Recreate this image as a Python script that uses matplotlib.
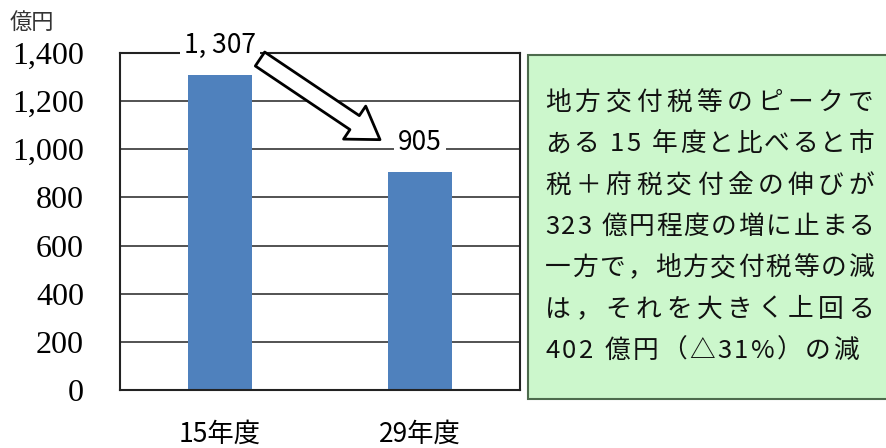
import matplotlib
matplotlib.use("Agg")
import matplotlib.pyplot as plt
from matplotlib.patches import Rectangle

# data
categories = ["15年度", "29年度"]
values = [1307, 905]
value_labels = ["1, 307", "905"]
y_ticks = [0, 200, 400, 600, 800, 1000, 1200, 1400]
y_unit = "億円"
note_lines = [
    "地方交付税等のピークで",
    "ある 15 年度と比べると市",
    "税＋府税交付金の伸びが",
    "323 億円程度の増に止まる",
    "一方で，地方交付税等の減",
    "は，それを大きく上回る",
    "402 億円（△31%）の減",
]

JP = ["Noto Sans CJK JP", "DejaVu Sans"]
W, H = 886, 448

fig = plt.figure(figsize=(W / 100, H / 100), dpi=100)
ax = fig.add_axes([120 / W, 58 / H, 400 / W, 337 / H])

x = list(range(len(categories)))
ax.bar(x, values, width=0.32, color="#4f81bd", zorder=2)
ax.set_xlim(-0.5, 1.5)
ax.set_ylim(0, 1400)
ax.set_yticks(y_ticks)
ax.set_yticklabels([f"{v:,}" for v in y_ticks], family="Liberation Serif", fontsize=23)
ax.set_xticks(x)
ax.set_xticklabels(categories, family=JP, fontsize=19)
ax.tick_params(axis="y", length=0, pad=26)
ax.tick_params(axis="x", length=0, pad=22)
ax.grid(axis="y", color="#444444", linewidth=1.3, zorder=0)
for s in ax.spines.values():
    s.set_color("#222222")
    s.set_linewidth(1.5)

# value labels sitting on the grid / top frame
for i, (v, lab) in enumerate(zip(values, value_labels)):
    ax.annotate(lab, (i, v), xytext=(0, 30), textcoords="offset pixels",
                ha="center", va="center", fontsize=19, family=JP, zorder=5,
                annotation_clip=False,
                bbox=dict(boxstyle="square,pad=0.15", fc="white", ec="none"))

# hollow arrow showing the drop
ax.annotate("", xy=(0.8, 1040), xytext=(0.2, 1375), annotation_clip=False,
            arrowprops=dict(arrowstyle="simple,head_width=1.3,head_length=1.0,tail_width=0.55",
                            mutation_scale=22, fc="white", ec="black", lw=2,
                            shrinkA=0, shrinkB=0), zorder=6)

fig.text(32 / W, 1 - 22 / H, y_unit, family=JP, fontsize=16, color="#333333",
         ha="center", va="center")

# green comment box
fig.add_artist(Rectangle((528 / W, 1 - 399 / H), 0.5, 344 / H, transform=fig.transFigure,
                         fc="#ccf7cc", ec="#4d6b4d", lw=1.5))

# justified lines, placed char by char
renderer = fig.canvas.get_renderer()
left, right = 545, 874
for k, line in enumerate(note_lines):
    y = 1 - (103 + 41.3 * k) / H
    widths = []
    for ch in line:
        t = fig.text(0, 0, ch if ch != " " else "a", family=JP, fontsize=18.5)
        w = t.get_window_extent(renderer).width
        t.remove()
        widths.append(w * 0.45 if ch == " " else w)
    gaps = len(line) - 1
    if k == len(note_lines) - 1:
        extra = 2.5
    else:
        extra = (right - left - sum(widths)) / gaps
    xp = left
    for ch, w in zip(line, widths):
        if ch != " ":
            fig.text(xp / W, y, ch, family=JP, fontsize=18.5, ha="left", va="center",
                     color="#111111")
        xp += w + extra

fig.savefig("out.png", dpi=100)
